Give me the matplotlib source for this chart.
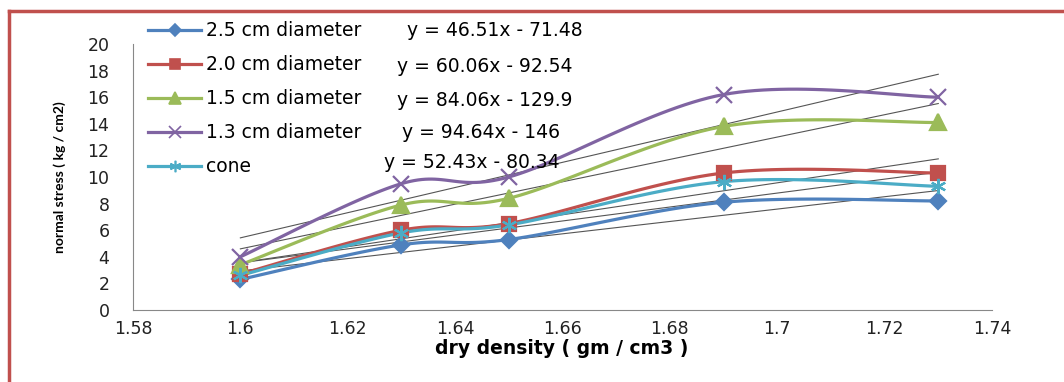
import matplotlib.pyplot as plt
import numpy as np
from matplotlib.lines import Line2D

# dry density values (x) and normal stress per series
density = [1.6, 1.63, 1.65, 1.69, 1.73]
d25 = [2.3, 4.9, 5.3, 8.1, 8.2]
d20 = [2.7, 6.0, 6.5, 10.3, 10.3]
d15 = [3.4, 7.9, 8.4, 13.8, 14.1]
d13 = [4.0, 9.5, 10.0, 16.2, 16.0]
cone = [2.6, 5.8, 6.4, 9.65, 9.3]

labels = ["2.5 cm diameter", "2.0 cm diameter", "1.5 cm diameter", "1.3 cm diameter", "cone"]
slopes = [46.51, 60.06, 84.06, 94.64, 52.43]
intercepts = [-71.48, -92.54, -129.9, -146, -80.34]
eq_text = ["y = 46.51x - 71.48", "y = 60.06x - 92.54", "y = 84.06x - 129.9",
           "y = 94.64x - 146", "y = 52.43x - 80.34"]

colors = ["#4F81BD", "#C0504D", "#9BBB59", "#8064A2", "#4BACC6"]
markers = ["D", "s", "^", "x", (6, 2, 0)]
msizes = [8, 10, 11, 11, 11]


def smooth(xs, ys, n=30):
    # excel-like smoothed line (bezier through the points)
    x = np.array(xs, float)
    y = np.array(ys, float)
    px = np.concatenate([[x[0]], x, [x[-1]]])
    py = np.concatenate([[y[0]], y, [y[-1]]])
    ox, oy = [], []
    t = np.linspace(0, 1, n)
    for i in range(1, len(px) - 2):
        p0 = np.array([px[i], py[i]])
        p3 = np.array([px[i + 1], py[i + 1]])
        c1 = p0 + (np.array([px[i + 1], py[i + 1]]) - np.array([px[i - 1], py[i - 1]])) / 6
        c2 = p3 - (np.array([px[i + 2], py[i + 2]]) - np.array([px[i], py[i]])) / 6
        for tt in t:
            b = (1 - tt) ** 3 * p0 + 3 * (1 - tt) ** 2 * tt * c1 + 3 * (1 - tt) * tt ** 2 * c2 + tt ** 3 * p3
            ox.append(b[0])
            oy.append(b[1])
    return ox, oy


fig = plt.figure(figsize=(10.64, 3.82), dpi=100)
ax = fig.add_axes([0.125, 0.1885, 0.8073, 0.6963])

series = [d25, d20, d15, d13, cone]
handles = []
for s, c, m, ms, lab in zip(series, colors, markers, msizes, labels):
    sx, sy = smooth(density, s)
    ax.plot(sx, sy, color=c, lw=2.3, zorder=3)
    ax.plot(density, s, linestyle="none", marker=m, color=c, markersize=ms,
            markeredgewidth=1.6, zorder=4)
    handles.append(Line2D([], [], color=c, lw=2.3, marker=m, markersize=ms * 0.75,
                          markeredgewidth=1.2, label=lab))

xt = np.array([density[0], density[-1]])
for a, b in zip(slopes, intercepts):
    ax.plot(xt, a * xt + b, color="#555555", lw=0.8, zorder=2)

ax.set_xlim(1.58, 1.74)
ax.set_ylim(0, 20)
ax.set_xticks(np.arange(1.58, 1.7401, 0.02))
ax.set_xticklabels(["1.58", "1.6", "1.62", "1.64", "1.66", "1.68", "1.7", "1.72", "1.74"])
ax.set_yticks(range(0, 21, 2))
ax.tick_params(length=0, labelsize=12.5, colors="#222222")
ax.tick_params(axis="y", pad=17)
ax.tick_params(axis="x", pad=7)
for sp in ["top", "right"]:
    ax.spines[sp].set_visible(False)
for sp in ["left", "bottom"]:
    ax.spines[sp].set_color("#888888")

fig.text(0.528, 1 - 349 / 382, "dry density ( gm / cm3 )", ha="center", va="center",
         fontsize=13.5, fontweight="bold")
fig.text(60 / 1064, 1 - 177 / 382, "normal stress ( kg / cm2)", ha="center", va="center",
         rotation=90, fontsize=10, fontweight="bold", family=["Lato", "DejaVu Sans"])

leg = fig.legend(handles=handles, loc="upper left", bbox_to_anchor=(139 / 1064, 1 - 12 / 382),
                 frameon=False, fontsize=13.5, handlelength=2.8, handletextpad=0.25,
                 labelspacing=0.8, borderpad=0)

eq_pos = [(407, 31), (397, 67), (397, 100), (402, 133), (384, 163)]
for (px, py), t in zip(eq_pos, eq_text):
    fig.text(px / 1064, 1 - py / 382, t, ha="left", va="center", fontsize=13.5)

# red frame on left and top
fig.add_artist(Line2D([9 / 1064, 9 / 1064], [0, 1 - 11 / 382], color="#C0504D", lw=2.5,
                      transform=fig.transFigure))
fig.add_artist(Line2D([9 / 1064, 1], [1 - 11 / 382, 1 - 11 / 382], color="#C0504D", lw=2.5,
                      transform=fig.transFigure))

fig.savefig("out.png", dpi=100)
